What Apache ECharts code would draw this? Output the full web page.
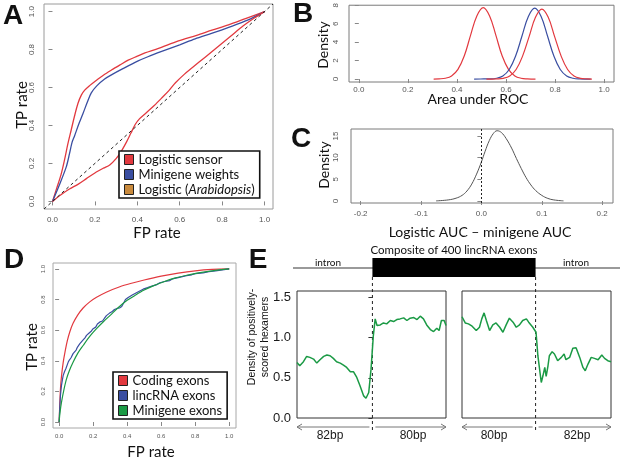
<!DOCTYPE html>
<html><head><meta charset="utf-8">
<script src="https://cdn.jsdelivr.net/npm/echarts@6/dist/echarts.min.js"></script>
<style>html,body{margin:0;padding:0;background:#fff}#c{width:622px;height:459px}</style>
</head><body><div id="c"></div>
<script>
// ---------- Panel A: ROC curves ----------
const aSensor = [[0,0],[0.02,0.07],[0.04,0.14],[0.057,0.22],[0.072,0.3],[0.088,0.375],[0.104,0.45],[0.12,0.516],[0.136,0.56],[0.152,0.586],[0.175,0.61],[0.2,0.632],[0.24,0.665],[0.278,0.692],[0.32,0.72],[0.357,0.744],[0.4,0.765],[0.436,0.782],[0.5,0.806],[0.594,0.846],[0.68,0.875],[0.752,0.902],[0.83,0.93],[0.91,0.963],[1,1]];
const aMinigene = [[0,0],[0.03,0.08],[0.065,0.182],[0.08,0.25],[0.092,0.31],[0.104,0.345],[0.125,0.41],[0.144,0.463],[0.165,0.525],[0.183,0.572],[0.21,0.61],[0.246,0.645],[0.28,0.668],[0.33,0.698],[0.404,0.74],[0.45,0.762],[0.515,0.79],[0.6,0.825],[0.673,0.856],[0.75,0.885],[0.831,0.917],[0.92,0.955],[1,1]];
const aArabidopsis = [[0,0],[0.04,0.035],[0.08,0.065],[0.12,0.09],[0.16,0.12],[0.2,0.15],[0.24,0.175],[0.27,0.192],[0.3,0.225],[0.325,0.265],[0.35,0.315],[0.37,0.36],[0.39,0.405],[0.41,0.435],[0.44,0.465],[0.48,0.505],[0.52,0.55],[0.55,0.585],[0.58,0.625],[0.62,0.668],[0.66,0.705],[0.72,0.76],[0.78,0.815],[0.84,0.87],[0.9,0.925],[0.95,0.965],[1,1]];
const aDiagonal = [[-0.04,-0.04],[1.04,1.04]];
const aTicks = [0,0.2,0.4,0.6,0.8,1.0];
const aNames = ['Logistic sensor','Minigene weights','Logistic (Arabidopsis)'];

// ---------- Panel B: AUC densities ----------
const bRed1 = [[0.305,0],[0.327,0.02],[0.353,0.09],[0.378,0.34],[0.404,1.05],[0.43,2.52],[0.455,4.7],[0.481,6.84],[0.507,7.75],[0.533,6.84],[0.559,4.7],[0.584,2.52],[0.61,1.05],[0.636,0.34],[0.661,0.09],[0.687,0.02],[0.72,0]];
const bBlue = [[0.47,0],[0.509,0.01],[0.535,0.02],[0.561,0.09],[0.587,0.34],[0.613,1.04],[0.639,2.49],[0.665,4.66],[0.691,6.78],[0.717,7.68],[0.743,6.78],[0.769,4.66],[0.795,2.49],[0.821,1.04],[0.847,0.34],[0.873,0.09],[0.899,0.02],[0.945,0]];
const bRed2 = [[0.52,0],[0.562,0.02],[0.589,0.08],[0.615,0.33],[0.641,1.03],[0.667,2.46],[0.694,4.6],[0.72,6.69],[0.746,7.58],[0.772,6.69],[0.798,4.6],[0.825,2.46],[0.851,1.03],[0.877,0.33],[0.903,0.08],[0.93,0.02],[0.95,0]];
const bTicksX = [0,0.2,0.4,0.6,0.8,1.0];
const bTicksY = [0,2,4,6,8];

// ---------- Panel C: AUC difference density ----------
const cDiff = [[-0.075,0.03],[-0.055,0.25],[-0.042,0.65],[-0.032,1.3],[-0.024,2.3],[-0.016,3.9],[-0.008,6.2],[0,9.0],[0.006,11.4],[0.013,13.9],[0.02,15.6],[0.026,16.2],[0.033,15.8],[0.041,14.4],[0.05,12.2],[0.058,9.8],[0.066,7.5],[0.074,5.4],[0.082,3.7],[0.09,2.4],[0.1,1.3],[0.11,0.6],[0.12,0.25],[0.136,0.03]];
const cTicksX = [-0.2,-0.1,0,0.1,0.2];
const cTicksY = [0,5,10,15];

// ---------- Panel D: ROC curves ----------
const dCoding = [[0,0],[0.004,0.12],[0.008,0.22],[0.014,0.3],[0.024,0.39],[0.035,0.46],[0.048,0.53],[0.063,0.59],[0.082,0.645],[0.11,0.7],[0.141,0.745],[0.18,0.785],[0.22,0.815],[0.28,0.85],[0.357,0.884],[0.42,0.905],[0.5,0.928],[0.6,0.953],[0.7,0.973],[0.8,0.988],[0.9,0.997],[1,1]];
const dLinc = [[0,0],[0.004,0.1],[0.008,0.175],[0.014,0.24],[0.02,0.28],[0.024,0.305],[0.032,0.33],[0.04,0.35],[0.053,0.39],[0.06,0.405],[0.07,0.42],[0.082,0.447],[0.09,0.46],[0.1,0.47],[0.108,0.49],[0.122,0.512],[0.13,0.52],[0.14,0.535],[0.152,0.55],[0.161,0.566],[0.175,0.58],[0.19,0.595],[0.2,0.61],[0.215,0.62],[0.225,0.64],[0.24,0.654],[0.255,0.66],[0.265,0.675],[0.278,0.695],[0.295,0.71],[0.31,0.72],[0.325,0.735],[0.34,0.742],[0.355,0.745],[0.368,0.755],[0.378,0.775],[0.39,0.8],[0.406,0.813],[0.43,0.83],[0.46,0.848],[0.494,0.868],[0.52,0.878],[0.55,0.89],[0.575,0.898],[0.592,0.91],[0.62,0.918],[0.651,0.924],[0.665,0.935],[0.7,0.943],[0.749,0.957],[0.78,0.962],[0.8,0.97],[0.847,0.975],[0.88,0.983],[0.92,0.988],[0.96,0.994],[1,1]];
const dMinigene = [[0,0],[0.005,0.06],[0.014,0.13],[0.028,0.21],[0.043,0.28],[0.06,0.335],[0.082,0.39],[0.11,0.45],[0.141,0.5],[0.18,0.56],[0.22,0.61],[0.26,0.655],[0.3,0.697],[0.35,0.75],[0.4,0.795],[0.45,0.83],[0.5,0.862],[0.55,0.888],[0.612,0.915],[0.68,0.94],[0.75,0.959],[0.82,0.975],[0.9,0.988],[1,1]];
const dTicks = [0,0.2,0.4,0.6,0.8,1.0];
const dNames = ['Coding exons','lincRNA exons','Minigene exons'];

// ---------- Panel E: hexamer density around exon boundaries ----------
const eLeft = [[-82,0.69],[-79,0.65],[-75,0.7],[-71.5,0.766],[-68,0.754],[-64,0.733],[-60.5,0.683],[-57,0.725],[-53,0.766],[-49.5,0.783],[-46,0.775],[-42.5,0.742],[-39,0.7],[-35,0.683],[-31.5,0.658],[-28,0.629],[-24,0.575],[-20.5,0.575],[-17,0.504],[-13.5,0.4],[-9.5,0.275],[-7,0.246],[-4,0.317],[-1.5,0.608],[1,1.025],[3,1.233],[5,1.15],[8.5,1.158],[12,1.183],[15.5,1.171],[19.5,1.213],[23,1.2],[26.5,1.225],[30,1.233],[34,1.246],[37.5,1.213],[41,1.242],[45,1.25],[48.5,1.225],[52,1.267],[55.5,1.233],[59,1.158],[63,1.1],[66.5,1.075],[70,1.117],[72.5,1.088],[75,1.213],[78,1.213],[80,1.15]];
const eRight = [[-80,1.26],[-79,1.254],[-76.5,1.183],[-73,1.171],[-69,1.142],[-64.5,1.088],[-61,1.129],[-58.5,1.233],[-56,1.308],[-53.5,1.213],[-50,1.088],[-46.5,1.158],[-43,1.183],[-39,1.129],[-35.5,1.067],[-32,1.158],[-28.5,1.242],[-24.5,1.192],[-21,1.129],[-17.5,1.158],[-14,1.213],[-10,1.233],[-7.5,1.192],[-3,1.129],[0.5,1.067],[2.5,0.775],[4.5,0.754],[6.2,0.442],[8,0.525],[10,0.629],[11.5,0.517],[13.5,0.65],[15,0.775],[18,0.825],[20.5,0.796],[24,0.713],[28,0.754],[31,0.796],[33,0.725],[37,0.754],[40.5,0.867],[44,0.875],[48,0.754],[51.5,0.629],[54,0.588],[57,0.671],[60.5,0.754],[64,0.742],[68,0.725],[72,0.783],[75,0.742],[78.5,0.713],[82,0.7]];
const eTicksY = [0,0.5,1.0,1.5];
const eSegLabels = ['82bp','80bp','80bp','82bp'];

// ---------- styling ----------
const RED = '#e2393f', BLUE = '#3a4ea1', GREEN = '#1b9a45', ORANGE = '#c98a3d';
const TF = 'Lato, "Open Sans", sans-serif';
const AF = '"Liberation Sans", Arial, sans-serif';

const grids = [
  {left:44, top:4, width:229, height:205, border:'#9a9a9a'},   // A
  {left:349, top:5, width:265, height:77, border:'#7a7a7a'},   // B
  {left:351, top:129, width:262, height:74, border:'#7a7a7a'}, // C
  {left:53, top:263, width:183, height:165, border:'#a8a8a8'}, // D
  {left:297, top:291, width:149, height:127, border:'#333'},   // E left
  {left:462, top:291, width:149, height:127, border:'#333'}    // E right
];

function axis(o) {
  return {
    type:'value', gridIndex:o.g, min:o.min, max:o.max,
    axisLine:{show:false}, splitLine:{show:false},
    axisTick:{show:!!o.ticks, length:o.tl||4, inside:false, customValues:o.ticks, lineStyle:{color:o.tc||'#888', width:1}},
    axisLabel:{show:!!o.ticks, customValues:o.ticks, formatter:o.fmt, fontSize:o.fs||8, color:o.lc||'#555', margin:o.m, rotate:o.rot||0, fontFamily:AF}
  };
}
const f1 = v => v.toFixed(1);
const f0 = v => String(v);

const xAxes = [
  axis({g:0, min:-0.04, max:1.04, ticks:aTicks, fmt:f1, m:7}),
  axis({g:1, min:-0.04, max:1.04, ticks:bTicksX, fmt:f1, m:4}),
  axis({g:2, min:-0.216, max:0.218, ticks:cTicksX, fmt:f1, m:7}),
  axis({g:3, min:-0.036, max:1.04, ticks:dTicks, fmt:f1, m:5, fs:6}),
  axis({g:4, min:-82, max:80}),
  axis({g:5, min:-80, max:82})
];
const yAxes = [
  axis({g:0, min:-0.04, max:1.04, ticks:aTicks, fmt:f1, m:8, rot:90}),
  axis({g:1, min:-0.32, max:8.0, ticks:bTicksY, fmt:f0, m:9, rot:90}),
  axis({g:2, min:-0.46, max:16.6, ticks:cTicksY, fmt:f0, m:11, rot:90}),
  axis({g:3, min:-0.039, max:1.039, ticks:dTicks, fmt:f1, m:7, fs:6, rot:90}),
  axis({g:4, min:0, max:1.58, ticks:eTicksY, fmt:f1, m:6, fs:13, lc:'#1a1a1a', tc:'#333', tl:4}),
  axis({g:5, min:0, max:1.58})
];

function line(name, data, xi, color, w, smooth, extra) {
  return Object.assign({
    type:'line', name, data, xAxisIndex:xi, yAxisIndex:xi, showSymbol:false, symbol:'none',
    smooth:smooth, lineStyle:{color, width:w}, itemStyle:{color}, silent:true, z:3
  }, extra||{});
}

const series = [
  line(aNames[0], aSensor, 0, RED, 1.3, 0.3),
  line(aNames[1], aMinigene, 0, BLUE, 1.3, 0.3),
  line(aNames[2], aArabidopsis, 0, RED, 1.3, 0.3),
  line('diagonal', aDiagonal, 0, '#222', 1, false, {lineStyle:{color:'#222', width:1, type:[3,3]}, z:4}),
  line('B red 1', bRed1, 1, RED, 1.2, 0.4),
  line('B blue', bBlue, 1, BLUE, 1.2, 0.4),
  line('B red 2', bRed2, 1, RED, 1.2, 0.4),
  line('C diff', cDiff, 2, '#555', 1, 0.4, {markLine:{silent:true, symbol:'none', label:{show:false}, lineStyle:{type:[2,2], color:'#222', width:1}, data:[{xAxis:0}]}}),
  line(dNames[0], dCoding, 3, RED, 1.2, 0.3),
  line(dNames[1], dLinc, 3, BLUE, 1.2, false),
  line(dNames[2], dMinigene, 3, GREEN, 1.2, 0.3),
  line('E left', eLeft, 4, GREEN, 1.5, false),
  line('E right', eRight, 5, GREEN, 1.5, false)
];

function legend(names, left, top, colorMap) {
  return {
    data: names.map(n => ({name:n, itemStyle:{color:colorMap[n]}})),
    left, top, orient:'vertical', icon:'rect', itemWidth:9, itemHeight:10, itemGap:2,
    selectedMode:false, backgroundColor:'#fff', borderColor:'#111', borderWidth:1.6,
    padding:[2,5,2,5],
    itemStyle:{borderColor:'#222', borderWidth:1},
    formatter: n => n === 'Logistic (Arabidopsis)' ? 'Logistic ({i|Arabidopsis})' : n,
    textStyle:{fontFamily:TF, fontSize:13, color:'#111', lineHeight:13,
      rich:{i:{fontFamily:TF, fontSize:13, fontStyle:'italic', color:'#111', lineHeight:13}}}
  };
}

function txt(text, x, y, size, opts) {
  opts = opts || {};
  return {type:'text', x, y, rotation: opts.rot ? Math.PI/2 : 0, silent:true, z:10,
    style:{text, x:0, y:0, align:'center', verticalAlign:'middle', fontSize:size,
      fontFamily:opts.ff||TF, fontWeight:opts.fw||'normal', fill:opts.c||'#111', lineHeight:opts.lh}};
}

const staticGraphics = [
  txt('A', 13, 16, 28, {ff:AF, fw:'bold'}),
  txt('B', 303, 14, 28, {ff:AF, fw:'bold'}),
  txt('C', 301, 139, 28, {ff:AF, fw:'bold'}),
  txt('D', 14, 260, 28, {ff:AF, fw:'bold'}),
  txt('E', 258, 260, 28, {ff:AF, fw:'bold'}),
  txt('TP rate', 22, 105, 15, {rot:true}),
  txt('FP rate', 157, 233, 15),
  txt('Density', 323, 45, 14, {rot:true}),
  txt('Area under ROC', 478, 99, 14),
  txt('Density', 324, 165, 14, {rot:true}),
  txt('Logistic AUC \u2013 minigene AUC', 480, 232, 14),
  txt('TP rate', 32, 347, 15, {rot:true}),
  txt('FP rate', 151, 452, 15),
  txt('Density of positively-\nscored hexamers', 259, 337, 10.5, {rot:true, ff:AF, lh:13}),
  txt('Composite of 400 lincRNA exons', 454, 250, 11.5),
  txt('intron', 328, 263, 10),
  txt('intron', 576, 263, 10)
];

const chart = echarts.init(document.getElementById('c'), null, {renderer:'canvas'});
chart.setOption({
  animation:false,
  backgroundColor:'#fff',
  grid: grids.map(g => ({left:g.left, top:g.top, width:g.width, height:g.height, show:true, borderColor:g.border, borderWidth:1, backgroundColor:'transparent'})),
  xAxis: xAxes, yAxis: yAxes, series,
  legend: [
    legend(aNames, 119, 151, {'Logistic sensor':RED, 'Minigene weights':BLUE, 'Logistic (Arabidopsis)':ORANGE}),
    legend(dNames, 113, 372, {'Coding exons':RED, 'lincRNA exons':BLUE, 'Minigene exons':GREEN})
  ],
  graphic: staticGraphics
});

// exon-boundary schematic for panel E, aligned to x = 0 of each E plot
const x0L = chart.convertToPixel({xAxisIndex:4}, 0);
const x0R = chart.convertToPixel({xAxisIndex:5}, 0);
const gL = grids[4], gR = grids[5];
const arrowY = 427, labY = 436;
function arrow(x1, x2, headAtStart) {
  const hx = headAtStart ? x1 : x2, d = headAtStart ? 5 : -5;
  return [
    {type:'line', silent:true, shape:{x1, y1:arrowY, x2, y2:arrowY}, style:{stroke:'#777', lineWidth:1}},
    {type:'polyline', silent:true, shape:{points:[[hx+d, arrowY-3],[hx, arrowY],[hx+d, arrowY+3]]}, style:{stroke:'#777', lineWidth:1, fill:null}}
  ];
}
const eGraphics = [
  {type:'line', silent:true, shape:{x1:293, y1:268, x2:620, y2:268}, style:{stroke:'#9a9a9a', lineWidth:2}},
  {type:'rect', silent:true, shape:{x:x0L, y:258, width:x0R - x0L, height:19}, style:{fill:'#000'}},
  {type:'line', silent:true, shape:{x1:x0L, y1:277, x2:x0L, y2:431}, style:{stroke:'#222', lineWidth:1, lineDash:[3,3]}},
  {type:'line', silent:true, shape:{x1:x0R, y1:277, x2:x0R, y2:431}, style:{stroke:'#222', lineWidth:1, lineDash:[3,3]}},
  ...arrow(gL.left, x0L - 3, true),
  ...arrow(x0L + 3, gL.left + gL.width, false),
  ...arrow(gR.left, x0R - 3, true),
  ...arrow(x0R + 3, gR.left + gR.width, false),
  txt(eSegLabels[0], 330, labY, 12, {ff:AF, c:'#1a1a1a'}),
  txt(eSegLabels[1], 413, labY, 12, {ff:AF, c:'#1a1a1a'}),
  txt(eSegLabels[2], 494, labY, 12, {ff:AF, c:'#1a1a1a'}),
  txt(eSegLabels[3], 577, labY, 12, {ff:AF, c:'#1a1a1a'})
];
chart.setOption({graphic: staticGraphics.concat(eGraphics)});
</script></body></html>
